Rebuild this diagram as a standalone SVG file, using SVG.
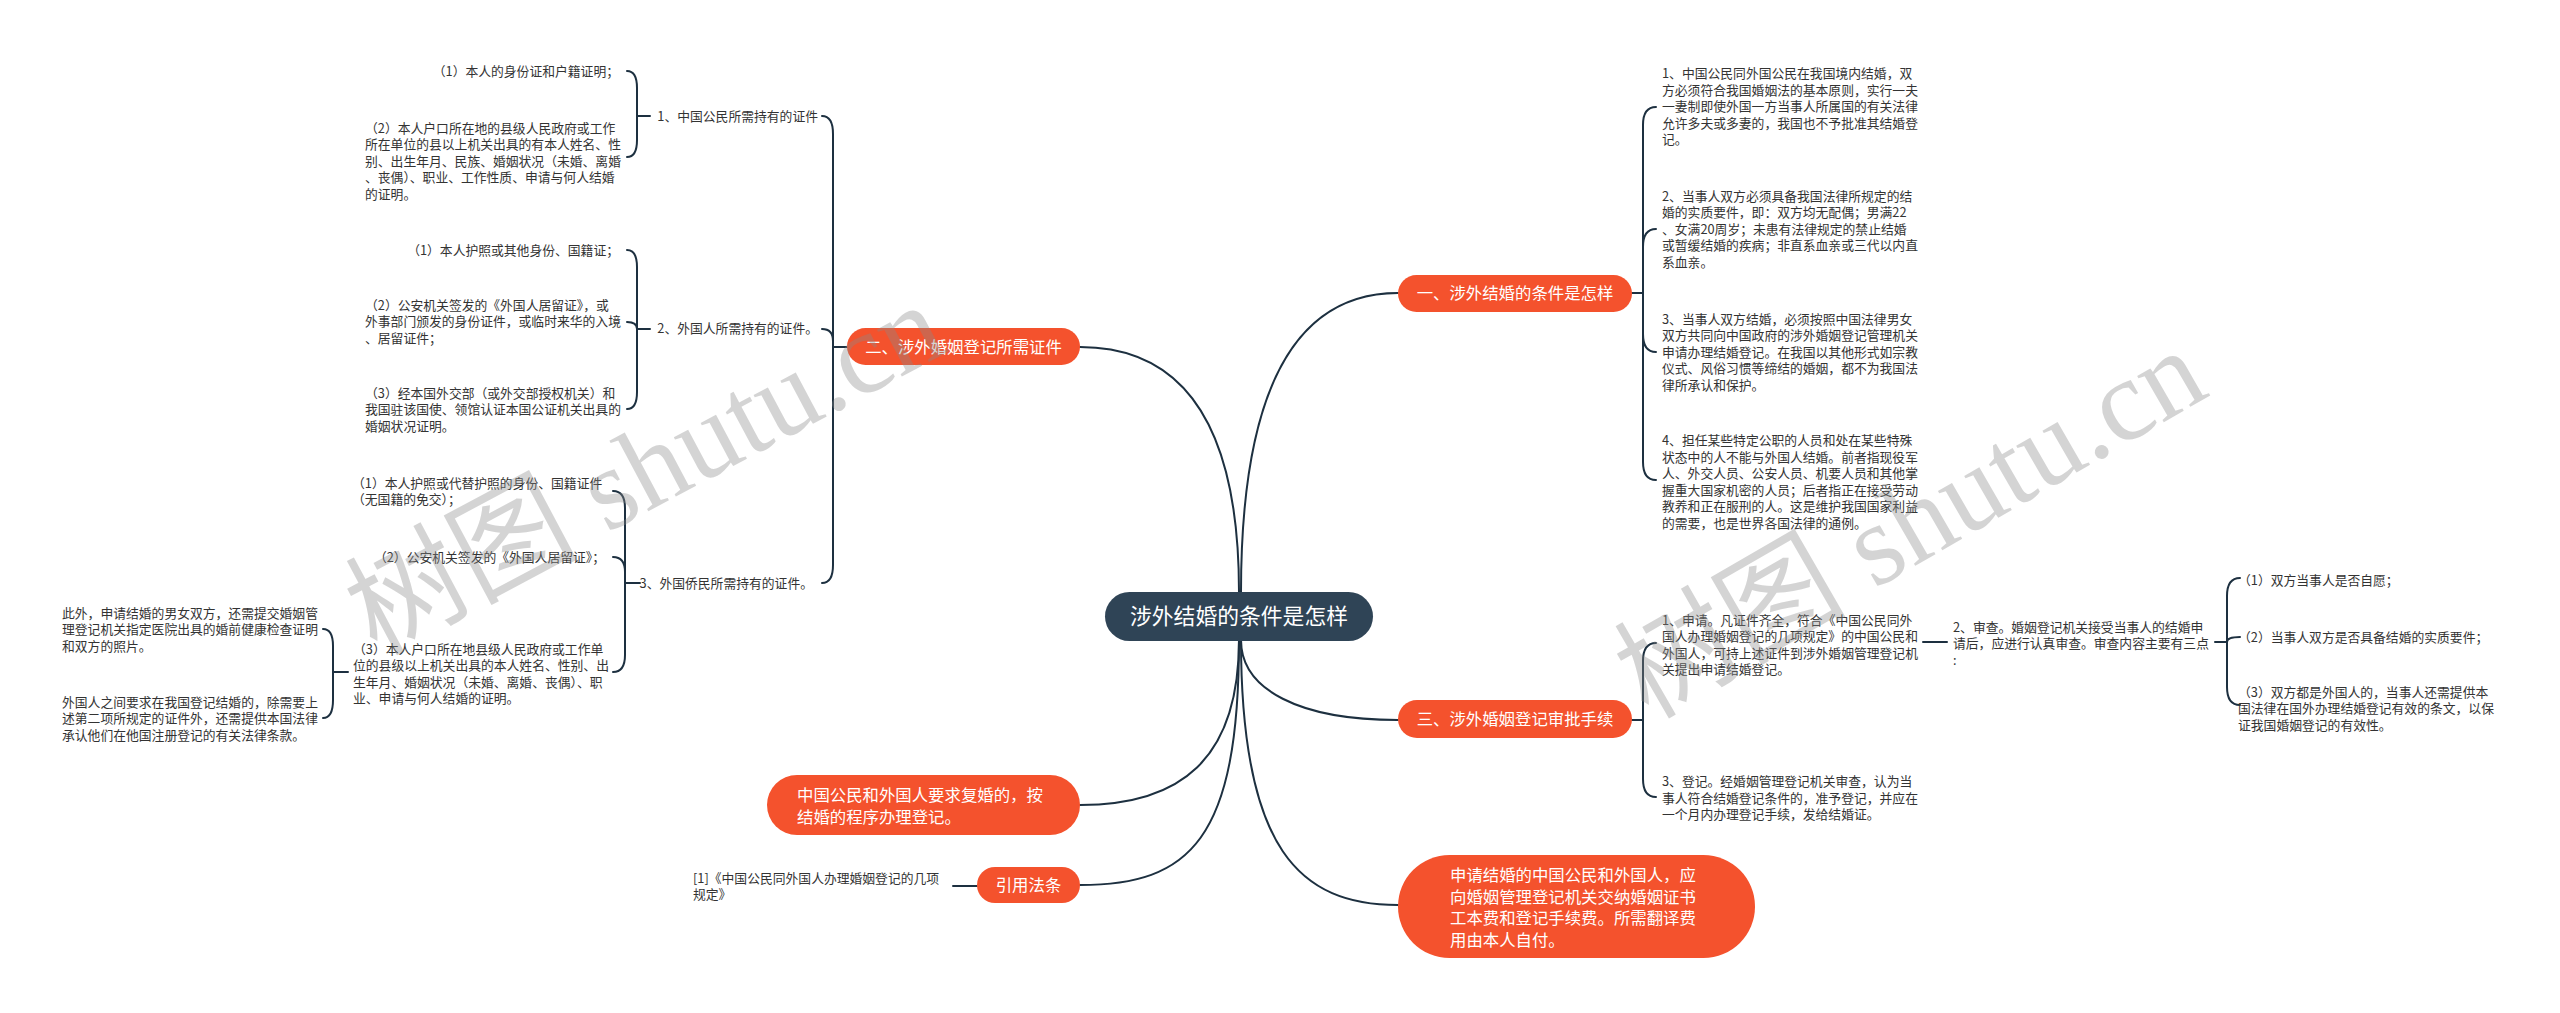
<svg xmlns="http://www.w3.org/2000/svg" width="2560" height="1013" viewBox="0 0 2560 1013">
<style>
.bg{fill:#ffffff}
.ln{fill:none;stroke:#1d3040;stroke-width:2;stroke-linecap:round}
.root{fill:#2f4456}
.br{fill:#f4522d}
.t{font-family:"Noto Sans CJK SC","Liberation Sans",sans-serif;font-size:12.8px;fill:#333333}
.tb{font-family:"Noto Sans CJK SC","Liberation Sans",sans-serif;font-size:16.4px;fill:#ffffff}
.tr{font-family:"Noto Sans CJK SC","Liberation Sans",sans-serif;font-size:21.8px;fill:#ffffff}
.wm{font-family:"Liberation Serif","Noto Sans CJK SC",serif;font-size:116px;fill:#8a8a8a;opacity:0.36}
</style>
<rect class="bg" x="0" y="0" width="2560" height="1013"/>
<g id="connectors">
<path class="ln" d="M1241 592 C1241 380 1300 293 1398 293"/>
<path class="ln" d="M1239 592 C1239 420 1180 347 1080 347"/>
<path class="ln" d="M1241 640 C1241 690 1300 720 1398 720"/>
<path class="ln" d="M1241 640 C1241 850 1300 905 1398 905"/>
<path class="ln" d="M1239 640 C1239 760 1180 805 1080 805"/>
<path class="ln" d="M1239 640 C1239 840 1190 885 1080 885"/>
<path class="ln" d="M1632 293 H1643 V125 Q1643 107 1656 107"/>
<path class="ln" d="M1643 293 V247 Q1643 229 1656 229"/>
<path class="ln" d="M1643 293 V334 Q1643 352 1656 352"/>
<path class="ln" d="M1643 293 V462 Q1643 480 1656 480"/>
<path class="ln" d="M1632 720 H1643 V661 Q1643 643 1656 643"/>
<path class="ln" d="M1643 720 V779 Q1643 797 1656 797"/>
<path class="ln" d="M1923 642 H1947"/>
<path class="ln" d="M2215 642 H2227 V596 Q2227 578 2240 578"/>
<path class="ln" d="M2227 642 Q2227 637 2240 637"/>
<path class="ln" d="M2227 642 V687 Q2227 705 2240 705"/>
<path class="ln" d="M847 347 H833 V134 Q833 116 822 116"/>
<path class="ln" d="M833 347 V341 Q833 329 822 329"/>
<path class="ln" d="M833 347 V565 Q833 583 822 583"/>
<path class="ln" d="M650 116 H637 V88 Q637 71 627 71"/>
<path class="ln" d="M637 116 V140 Q637 157 627 157"/>
<path class="ln" d="M650 329 H637 V267 Q637 250 627 250"/>
<path class="ln" d="M637 329 Q637 322 627 322"/>
<path class="ln" d="M637 329 V392 Q637 409 627 409"/>
<path class="ln" d="M640 583 H625 V508 Q625 491 613 491"/>
<path class="ln" d="M625 583 V572 Q625 557 613 557"/>
<path class="ln" d="M625 583 V655 Q625 672 613 672"/>
<path class="ln" d="M348 672 H333 V646 Q333 629 323 629"/>
<path class="ln" d="M333 672 V700 Q333 718 323 718"/>
<path class="ln" d="M977 886 H953"/>
</g>
<g id="root">
<rect class="root" x="1105" y="592" width="268" height="49" rx="24.5"/>
<text class="tr" x="1239" y="624" text-anchor="middle">涉外结婚的条件是怎样</text>
</g>
<g id="b1">
<rect class="br" x="1398" y="275" width="234" height="37" rx="18.5"/>
<text class="tb" x="1515" y="299" text-anchor="middle">一、涉外结婚的条件是怎样</text>
</g>
<g id="b1c1"><text class="t" x="1662"><tspan x="1662" y="78">1、中国公民同外国公民在我国境内结婚，双</tspan><tspan x="1662" y="94.5">方必须符合我国婚姻法的基本原则，实行一夫</tspan><tspan x="1662" y="111">一妻制即使外国一方当事人所属国的有关法律</tspan><tspan x="1662" y="127.5">允许多夫或多妻的，我国也不予批准其结婚登</tspan><tspan x="1662" y="144">记。</tspan></text></g>
<g id="b1c2"><text class="t"><tspan x="1662" y="200.5">2、当事人双方必须具备我国法律所规定的结</tspan><tspan x="1662" y="217">婚的实质要件，即：双方均无配偶；男满22</tspan><tspan x="1662" y="233.5">、女满20周岁；未患有法律规定的禁止结婚</tspan><tspan x="1662" y="250">或暂缓结婚的疾病；非直系血亲或三代以内直</tspan><tspan x="1662" y="266.5">系血亲。</tspan></text></g>
<g id="b1c3"><text class="t"><tspan x="1662" y="323.5">3、当事人双方结婚，必须按照中国法律男女</tspan><tspan x="1662" y="340">双方共同向中国政府的涉外婚姻登记管理机关</tspan><tspan x="1662" y="356.5">申请办理结婚登记。在我国以其他形式如宗教</tspan><tspan x="1662" y="373">仪式、风俗习惯等缔结的婚姻，都不为我国法</tspan><tspan x="1662" y="389.5">律所承认和保护。</tspan></text></g>
<g id="b1c4"><text class="t"><tspan x="1662" y="445">4、担任某些特定公职的人员和处在某些特殊</tspan><tspan x="1662" y="461.5">状态中的人不能与外国人结婚。前者指现役军</tspan><tspan x="1662" y="478">人、外交人员、公安人员、机要人员和其他掌</tspan><tspan x="1662" y="494.5">握重大国家机密的人员；后者指正在接受劳动</tspan><tspan x="1662" y="511">教养和正在服刑的人。这是维护我国国家利益</tspan><tspan x="1662" y="527.5">的需要，也是世界各国法律的通例。</tspan></text></g>
<g id="b3">
<rect class="br" x="1398" y="700" width="234" height="38" rx="19"/>
<text class="tb" x="1515" y="725" text-anchor="middle">三、涉外婚姻登记审批手续</text>
</g>
<g id="b3c1"><text class="t"><tspan x="1662" y="624.5">1、申请。凡证件齐全，符合《中国公民同外</tspan><tspan x="1662" y="641">国人办理婚姻登记的几项规定》的中国公民和</tspan><tspan x="1662" y="657.5">外国人，可持上述证件到涉外婚姻管理登记机</tspan><tspan x="1662" y="674">关提出申请结婚登记。</tspan></text></g>
<g id="b3c3"><text class="t"><tspan x="1662" y="786">3、登记。经婚姻管理登记机关审查，认为当</tspan><tspan x="1662" y="802.5">事人符合结婚登记条件的，准予登记，并应在</tspan><tspan x="1662" y="819">一个月内办理登记手续，发给结婚证。</tspan></text></g>
<g id="b3c2"><text class="t"><tspan x="1953" y="631.5">2、审查。婚姻登记机关接受当事人的结婚申</tspan><tspan x="1953" y="648">请后，应进行认真审查。审查内容主要有三点</tspan><tspan x="1953" y="664.5">:</tspan></text></g>
<g id="b3c2a"><text class="t" x="2238" y="584.5">（1）双方当事人是否自愿；</text></g>
<g id="b3c2b"><text class="t" x="2238" y="641.5">（2）当事人双方是否具备结婚的实质要件；</text></g>
<g id="b3c2c"><text class="t"><tspan x="2238" y="696.5">（3）双方都是外国人的，当事人还需提供本</tspan><tspan x="2238" y="713">国法律在国外办理结婚登记有效的条文，以保</tspan><tspan x="2238" y="729.5">证我国婚姻登记的有效性。</tspan></text></g>
<g id="b4">
<rect class="br" x="1398" y="855" width="357" height="103" rx="51.5"/>
<text class="tb"><tspan x="1450" y="881">申请结婚的中国公民和外国人，应</tspan><tspan x="1450" y="902.7">向婚姻管理登记机关交纳婚姻证书</tspan><tspan x="1450" y="924.3">工本费和登记手续费。所需翻译费</tspan><tspan x="1450" y="946">用由本人自付。</tspan></text>
</g>
<g id="b2">
<rect class="br" x="847" y="328" width="233" height="37" rx="18.5"/>
<text class="tb" x="963.5" y="353" text-anchor="middle">二、涉外婚姻登记所需证件</text>
</g>
<g id="b2c1"><text class="t" x="818" y="120.5" text-anchor="end">1、中国公民所需持有的证件</text></g>
<g id="b2c1a"><text class="t" x="619" y="75.5" text-anchor="end">（1）本人的身份证和户籍证明；</text></g>
<g id="b2c1b"><text class="t"><tspan x="365" y="132.8">（2）本人户口所在地的县级人民政府或工作</tspan><tspan x="365" y="149.3">所在单位的县以上机关出具的有本人姓名、性</tspan><tspan x="365" y="165.8">别、出生年月、民族、婚姻状况（未婚、离婚</tspan><tspan x="365" y="182.3">、丧偶）、职业、工作性质、申请与何人结婚</tspan><tspan x="365" y="198.8">的证明。</tspan></text></g>
<g id="b2c2"><text class="t" x="818" y="333" text-anchor="end">2、外国人所需持有的证件。</text></g>
<g id="b2c2a"><text class="t" x="619" y="254.5" text-anchor="end">（1）本人护照或其他身份、国籍证；</text></g>
<g id="b2c2b"><text class="t"><tspan x="365" y="309.5">（2）公安机关签发的《外国人居留证》，或</tspan><tspan x="365" y="326">外事部门颁发的身份证件，或临时来华的入境</tspan><tspan x="365" y="342.5">、居留证件；</tspan></text></g>
<g id="b2c2c"><text class="t"><tspan x="365" y="397.5">（3）经本国外交部（或外交部授权机关）和</tspan><tspan x="365" y="414">我国驻该国使、领馆认证本国公证机关出具的</tspan><tspan x="365" y="430.5">婚姻状况证明。</tspan></text></g>
<g id="b2c3"><text class="t" x="813" y="587.5" text-anchor="end">3、外国侨民所需持有的证件。</text></g>
<g id="b2c3a"><text class="t"><tspan x="352" y="487.5">（1）本人护照或代替护照的身份、国籍证件</tspan><tspan x="352" y="504">（无国籍的免交）；</tspan></text></g>
<g id="b2c3b"><text class="t" x="605" y="561.5" text-anchor="end">（2）公安机关签发的《外国人居留证》；</text></g>
<g id="b2c3c"><text class="t"><tspan x="353" y="653.5">（3）本人户口所在地县级人民政府或工作单</tspan><tspan x="353" y="670">位的县级以上机关出具的本人姓名、性别、出</tspan><tspan x="353" y="686.5">生年月、婚姻状况（未婚、离婚、丧偶）、职</tspan><tspan x="353" y="703">业、申请与何人结婚的证明。</tspan></text></g>
<g id="b2c3c1"><text class="t"><tspan x="62" y="617.5">此外，申请结婚的男女双方，还需提交婚姻管</tspan><tspan x="62" y="634">理登记机关指定医院出具的婚前健康检查证明</tspan><tspan x="62" y="650.5">和双方的照片。</tspan></text></g>
<g id="b2c3c2"><text class="t"><tspan x="62" y="706.5">外国人之间要求在我国登记结婚的，除需要上</tspan><tspan x="62" y="723">述第二项所规定的证件外，还需提供本国法律</tspan><tspan x="62" y="739.5">承认他们在他国注册登记的有关法律条款。</tspan></text></g>
<g id="b5">
<rect class="br" x="767" y="775" width="313" height="60" rx="30"/>
<text class="tb"><tspan x="797" y="801">中国公民和外国人要求复婚的，按</tspan><tspan x="797" y="823">结婚的程序办理登记。</tspan></text>
</g>
<g id="b6">
<rect class="br" x="977" y="867" width="103" height="36" rx="18"/>
<text class="tb" x="1028.5" y="891" text-anchor="middle">引用法条</text>
</g>
<g id="b6c1"><text class="t"><tspan x="693" y="882.5">[1]《中国公民同外国人办理婚姻登记的几项</tspan><tspan x="693" y="899">规定》</tspan></text></g>
<g id="watermark">
<text class="wm" transform="translate(376,656) rotate(-28)">树图 shutu.cn</text>
<text class="wm" transform="translate(1648,720) rotate(-30)">树图 shutu.cn</text>
</g>
</svg>
